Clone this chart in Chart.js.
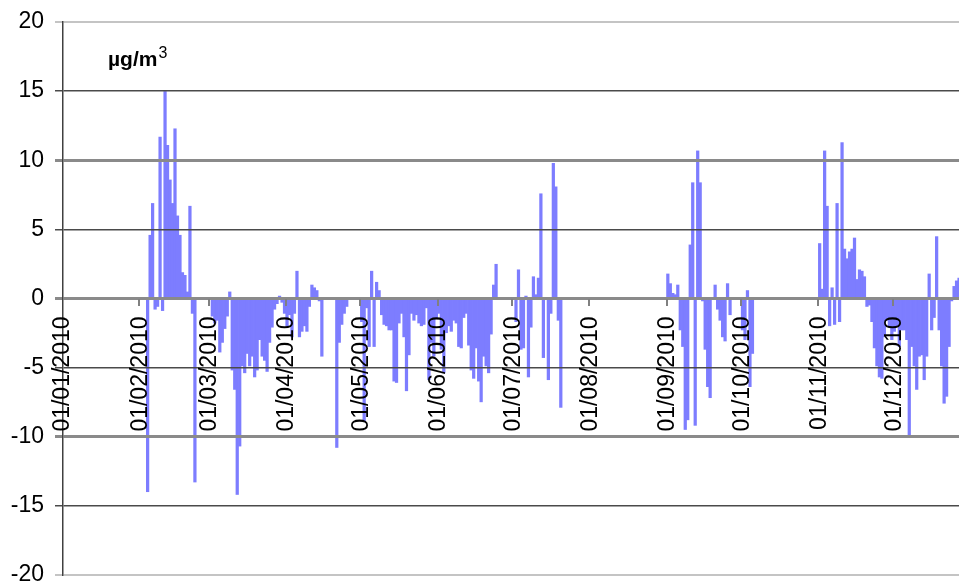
<!DOCTYPE html>
<html>
<head>
<meta charset="utf-8">
<script src="https://cdn.jsdelivr.net/npm/chart.js@4.4.1/dist/chart.umd.min.js"></script>
<style>
  html, body { margin: 0; padding: 0; overflow: hidden; background: #fff; }
  #wrap { position: relative; width: 969px; height: 583px; }
</style>
</head>
<body>
<div id="wrap"><canvas id="chart"></canvas></div>
<script>
// Daily differences in µg/m3 for 2010, one array per month (null = no data)
const jan = [null,null,null,null,null,null,null,null,null,null,null,null,null,null,null,null,
             null,null,null,null,null,null,null,null,null,null,null,null,null,null,null];
const feb = [null,null,null,-14.0,4.6,6.9,-0.8,-0.6,11.7,-0.9,15.0,11.1,8.6,6.9,12.3,6.0,
             4.6,1.9,1.7,0.5,6.7,-1.1,-13.3,null,null,null,null,null];
const mar = [null,-1.3,-1.8,-1.6,-3.9,-3.2,-2.2,-1.3,0.5,-5.2,-6.6,-14.2,-10.7,-4.9,-5.4,-4.0,
             -4.9,-4.2,-5.7,-5.2,-3.0,-4.2,-4.5,-5.3,-3.2,-2.1,-0.8,-0.4,0.2,-0.3,-1.1];
const apr = [-2.0,-1.2,-2.8,-1.1,2.0,-2.8,-2.4,-2.0,-2.4,-0.6,1.0,0.8,0.6,-0.2,-4.2,null,
             null,null,null,null,-10.8,-3.2,-1.9,-1.1,-0.6,null,null,null,null,null];
const may = [-1.7,-8.9,-0.7,-3.5,2.0,-3.5,1.2,0.6,-1.2,-1.9,-2.0,-2.3,-2.3,-6.0,-6.1,-1.8,
             -1.1,-2.8,-6.7,-4.1,-1.1,-1.6,-1.2,-1.8,-2.0,-1.9,-0.7,-5.9,-3.2,-4.2,-1.5];
const jun = [-1.1,-3.7,-5.4,-2.5,-2.0,-2.4,-1.6,-1.8,-3.5,-3.6,-1.4,-1.1,-3.4,-5.2,-5.8,-3.6,
             -6.0,-7.5,-4.2,-4.9,-5.4,-2.6,1.0,2.5,null,null,null,null,null,null];
const jul = [null,-1.7,2.1,-3.7,-3.6,0.2,-5.7,-2.1,1.6,0.3,1.5,7.6,-4.3,null,-5.9,-1.1,
             9.8,8.1,-1.6,-7.9,null,null,null,null,null,null,null,null,null,null,null];
const aug = [null,null,null,null,null,null,null,null,null,null,null,null,null,null,null,null,
             null,null,null,null,null,null,null,null,null,null,null,null,null,null,null];
const sep = [1.8,1.1,0.4,0.3,1.0,-2.3,-3.5,-9.5,-8.8,3.9,8.4,-9.2,10.7,8.4,-0.2,-3.7,
             -6.4,-7.2,null,1.0,-0.8,-1.6,-2.8,-3.1,1.1,-1.2,null,null,null,null];
const oct = [-2.3,-3.0,0.6,-6.4,-4.0,null,null,null,null,null,null,null,null,null,null,null,
             null,null,null,null,null,null,null,null,null,null,null,null,null,null,null];
const nov = [4.0,0.7,10.7,6.7,-2.0,0.8,-1.9,6.9,-1.7,11.3,3.6,2.9,3.4,3.6,4.4,1.4,
             2.1,2.0,1.6,-0.6,-0.5,-1.7,-3.6,-4.9,-5.7,-5.8,-2.8,-1.6,-2.0,-3.0];
const dec = [-2.4,-2.0,-3.5,-2.3,-2.3,-3.0,-10.0,-3.5,-4.9,-6.6,-4.2,-4.1,-5.9,-4.2,1.8,-2.3,
             -1.4,4.5,-2.3,-4.9,-7.6,-7.1,-3.5,-0.2,0.9,1.3,1.5,null,null,null,null];

// Axis labels shown on the first day of each month
const tickLabels = ['01/01/2010','01/02/2010','01/03/2010','01/04/2010','01/05/2010','01/06/2010',
                    '01/07/2010','01/08/2010','01/09/2010','01/10/2010','01/11/2010','01/12/2010'];
const unitText = 'µg/m';
const unitSup = '3';

const months = [jan, feb, mar, apr, may, jun, jul, aug, sep, oct, nov, dec];

// One category per day, and the index where each month starts
const days = [];
const monthStarts = [];
months.forEach((m, mi) => {
  monthStarts.push(days.length);
  m.forEach((_, di) => {
    const dd = String(di + 1).padStart(2, '0');
    const mm = String(mi + 1).padStart(2, '0');
    days.push(dd + '/' + mm + '/2010');
  });
});
const values = [].concat(...months);

const FONT = '"Liberation Sans", Arial, sans-serif';

const unitLabel = {
  id: 'unitLabel',
  afterDraw(chart) {
    const ctx = chart.ctx;
    ctx.save();
    ctx.fillStyle = '#000';
    ctx.textBaseline = 'alphabetic';
    ctx.textAlign = 'left';
    ctx.font = 'bold 21px ' + FONT;
    ctx.fillText(unitText, 108, 66);
    const w = ctx.measureText(unitText).width;
    ctx.font = '16px ' + FONT;
    ctx.fillText(unitSup, 108 + w + 1, 58);
    ctx.restore();
  }
};

new Chart(document.getElementById('chart'), {
  type: 'bar',
  data: {
    labels: days,
    datasets: [{
      data: values,
      backgroundColor: '#7d7dff',
      borderWidth: 0,
      barPercentage: 1.3,
      categoryPercentage: 1
    }]
  },
  options: {
    responsive: true,
    maintainAspectRatio: false,
    animation: false,
    layout: { padding: { top: 22, bottom: 8, left: 0, right: 0 } },
    plugins: { legend: { display: false }, tooltip: { enabled: false } },
    scales: {
      x: {
        type: 'category',
        position: { y: 0 },
        offset: false,
        border: { display: false },
        grid: {
          z: 2,
          drawOnChartArea: false,
          drawTicks: true,
          tickLength: 7,
          lineWidth: 2,
          color: ctx => monthStarts.includes(ctx.index) ? '#808080' : 'rgba(0,0,0,0)'
        },
        ticks: {
          z: 3,
          autoSkip: false,
          minRotation: 90,
          maxRotation: 90,
          padding: 11,
          color: '#000',
          font: { family: FONT, size: 23 },
          callback: (v, i) => {
            const k = monthStarts.indexOf(i);
            return k >= 0 ? tickLabels[k] : '';
          }
        },
        afterFit: s => { s.height = 0; s.paddingLeft = 0; s.paddingRight = 0; }
      },
      y: {
        min: -20,
        max: 20,
        border: { display: true, color: '#404040', width: 1.5, z: 1 },
        grid: {
          z: 1,
          tickLength: 8,
          color: ctx => {
            const v = ctx.tick.value;
            if (Math.abs(v) === 20) return '#c4c4c4';
            if (v % 10 === 0) return '#8a8a8a';
            return '#4a4a4a';
          },
          lineWidth: ctx => {
            const v = ctx.tick.value;
            if (Math.abs(v) === 20) return 2;
            if (v % 10 === 0) return 3;
            return 1.5;
          }
        },
        ticks: {
          stepSize: 5,
          padding: 11,
          color: '#000',
          font: { family: FONT, size: 23 }
        },
        afterFit: s => { s.width = 63; s.paddingTop = 0; s.paddingBottom = 0; }
      }
    }
  },
  plugins: [unitLabel]
});
</script>
</body>
</html>
